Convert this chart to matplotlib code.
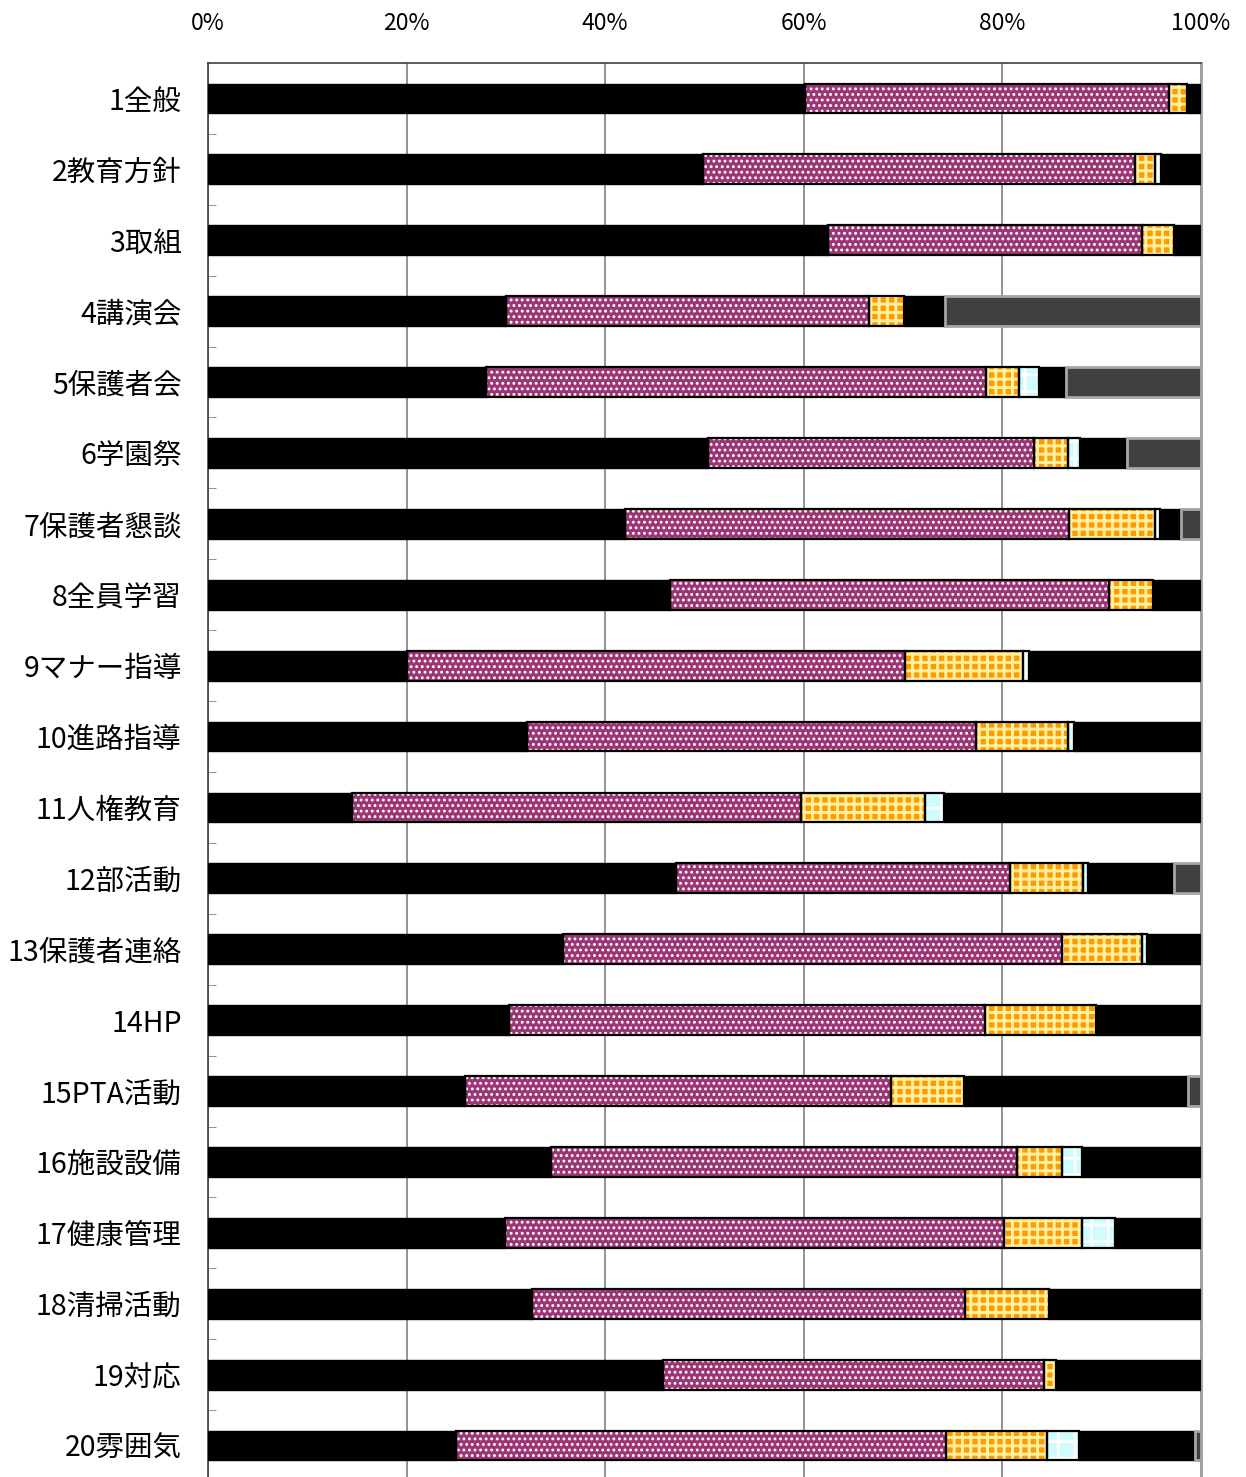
import numpy as np
import matplotlib
matplotlib.use("Agg")
import matplotlib.pyplot as plt

plt.rcParams['font.family'] = ['Noto Sans CJK JP', 'DejaVu Sans']

categories = ['1全般', '2教育方針', '3取組', '4講演会', '5保護者会', '6学園祭',
              '7保護者懇談', '8全員学習', '9マナー指導', '10進路指導', '11人権教育',
              '12部活動', '13保護者連絡', '14HP', '15PTA活動', '16施設設備',
              '17健康管理', '18清掃活動', '19対応', '20雰囲気']

# percentages per answer group
seg1 = [60.1, 49.8, 62.4, 30.0, 28.0, 50.4, 42.0, 46.5, 20.0, 32.1,
        14.5, 47.1, 35.8, 30.35, 25.9, 34.5, 29.9, 32.6, 45.8, 25.0]
seg2 = [36.7, 43.6, 31.65, 36.6, 50.3, 32.8, 44.7, 44.2, 50.2, 45.2,
        45.2, 33.7, 50.2, 47.85, 42.9, 47.0, 50.3, 43.6, 38.4, 49.3]
seg3 = [1.8, 2.0, 3.25, 3.5, 3.4, 3.4, 8.65, 4.5, 11.9, 9.3,
        12.5, 7.3, 8.05, 11.2, 7.3, 4.5, 7.8, 8.5, 1.2, 10.15]
seg4 = [0.0, 0.6, 0.0, 0.0, 2.0, 1.2, 0.55, 0.0, 0.6, 0.6,
        1.9, 0.5, 0.55, 0.0, 0.0, 2.0, 3.35, 0.0, 0.0, 3.25]
seg5 = [1.4, 4.0, 2.7, 4.1, 2.7, 4.7, 2.05, 4.8, 17.3, 12.8,
        25.9, 8.7, 5.4, 10.6, 22.6, 12.0, 8.65, 15.3, 14.6, 11.7]
seg6 = [0.0, 0.0, 0.0, 25.8, 13.6, 7.5, 2.05, 0.0, 0.0, 0.0,
        0.0, 2.7, 0.0, 0.0, 1.3, 0.0, 0.0, 0.0, 0.0, 0.6]

xticks = [0, 20, 40, 60, 80, 100]
xticklabels = ['0%', '20%', '40%', '60%', '80%', '100%']

fig = plt.figure(figsize=(12.46, 14.77), dpi=100)
ax = fig.add_axes([208 / 1246, -4 / 1477, (1201 - 208) / 1246, (1481 - 63) / 1477])

y = np.arange(len(categories))
h = 0.42
left = np.zeros(len(categories))

# (face, hatch, hatch colour, hatch width, edge colour, edge width)
styles = [
    ('black', None, None, 0, 'black', 1.0),
    ('#9c3574', '...', 'white', 1.3, 'black', 1.6),
    ('#ff9a00', '++', '#fff0a0', 2.1, 'black', 1.6),
    ('#d0fbff', '+', 'white', 2.0, 'black', 1.6),
    ('black', None, None, 0, 'black', 1.0),
    ('#404040', None, None, 0, '#a6a6a6', 2.0),
]

for vals, (fc, hatch, hc, hlw, ec, lw) in zip([seg1, seg2, seg3, seg4, seg5, seg6], styles):
    vals = np.array(vals)
    mask = vals > 0
    ax.barh(y[mask], vals[mask], left=left[mask], height=h, color=fc,
            edgecolor='none', linewidth=0, zorder=3)
    if hatch:
        with plt.rc_context({'hatch.linewidth': hlw}):
            ax.barh(y[mask], vals[mask], left=left[mask], height=h, fill=False,
                    edgecolor=hc, hatch=hatch, linewidth=0, zorder=4)
    ax.barh(y[mask], vals[mask], left=left[mask], height=h, fill=False,
            edgecolor=ec, linewidth=lw, zorder=5)
    left += vals

ax.set_xlim(0, 100)
ax.set_ylim(len(categories) - 0.5, -0.5)

ax.xaxis.tick_top()
ax.set_xticks(xticks)
ax.set_xticklabels(xticklabels, fontsize=16.5)
ax.tick_params(axis='x', length=0, pad=20)
ax.grid(axis='x', color='#808080', linewidth=1.2, zorder=0)

ax.set_yticks(y)
ax.set_yticklabels(categories, fontsize=20.5)
ax.tick_params(axis='y', which='major', length=0, pad=19)
ax.set_yticks(np.arange(len(categories)) + 0.5, minor=True)
ax.tick_params(axis='y', which='minor', direction='in', length=6, color='#808080')

for side in ['left', 'top']:
    ax.spines[side].set_color('#404040')
    ax.spines[side].set_linewidth(1.2)
ax.spines['right'].set_color('#a0a0a0')
ax.spines['right'].set_linewidth(2)
ax.spines['bottom'].set_visible(False)

fig.savefig('out.png', dpi=100)
